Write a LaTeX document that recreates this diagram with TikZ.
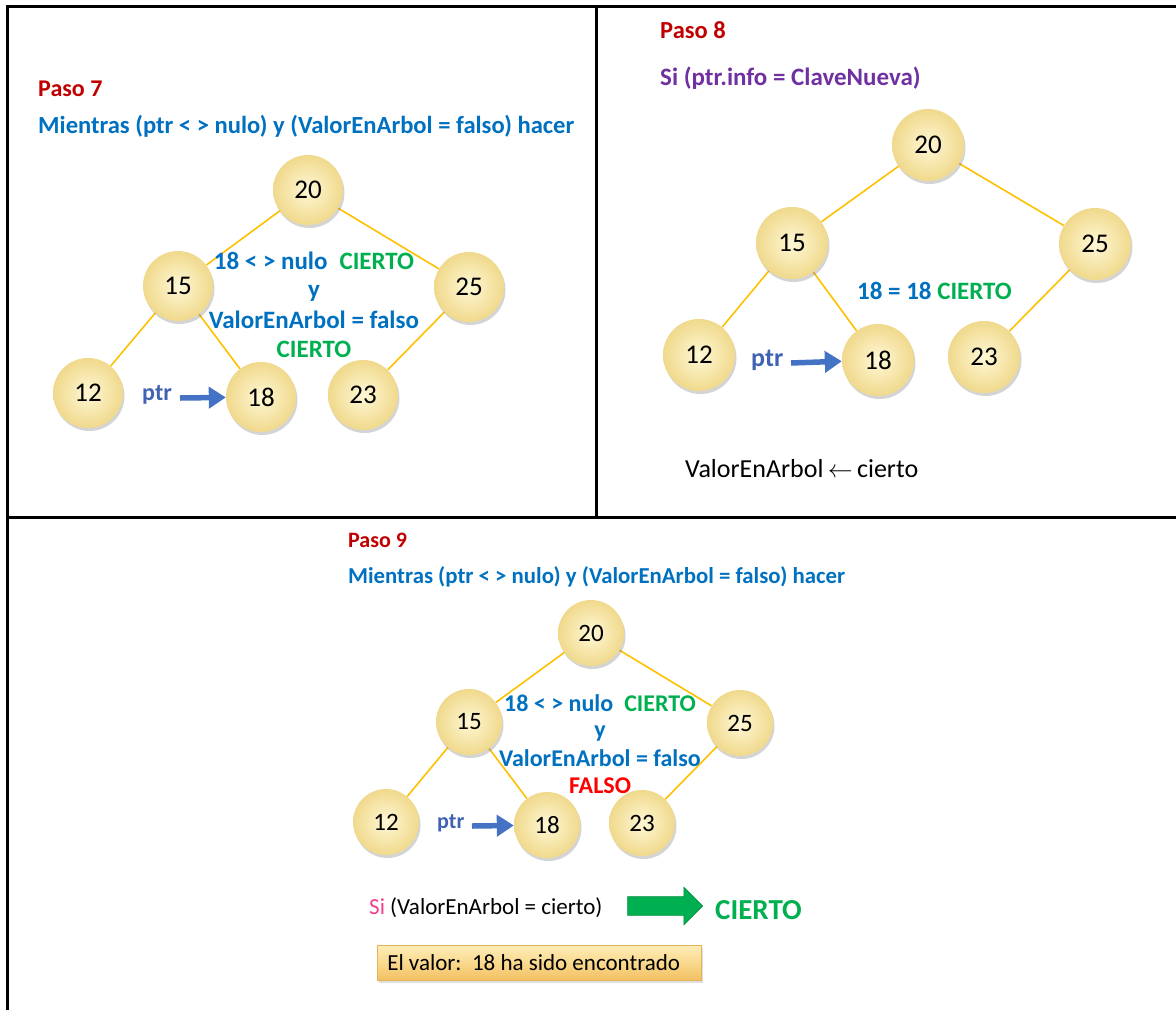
\documentclass[tikz,border=0pt]{standalone}
\usepackage{fontspec}
\setmainfont{Carlito}
\usetikzlibrary{shadows,shapes.arrows,arrows.meta,backgrounds}

\definecolor{pasored}{HTML}{C00000}
\definecolor{codeblue}{HTML}{0070C0}
\definecolor{okgreen}{HTML}{00B050}
\definecolor{falsered}{HTML}{FF0000}
\definecolor{purp}{HTML}{7030A0}
\definecolor{ptrblue}{HTML}{4472C4}
\definecolor{ptrtext}{HTML}{3F62B2}
\definecolor{edgegold}{HTML}{FFC000}
\definecolor{sipink}{HTML}{F0408E}
\definecolor{ballin}{HTML}{FFF8D6}
\definecolor{ballout}{HTML}{F0D98C}
\definecolor{boxtop}{HTML}{FFEDB8}
\definecolor{boxmid}{HTML}{F9D98E}
\definecolor{boxbot}{HTML}{F3C062}
\definecolor{boxline}{HTML}{E2B457}

\newcommand{\fs}[1]{\fontsize{#1}{#1}\selectfont}

\tikzset{
  frame/.style={line width=3pt, black},
  keynode/.style={circle, inner sep=0pt, shading=radial, inner color=ballin, outer color=ballout,
    drop shadow={shadow xshift=1.5pt, shadow yshift=-3pt, opacity=0.28, fill=black!60}},
  tree/.style={draw=edgegold, line width=1.6pt},
  ptrarrow/.style={draw=ptrblue, line width=5.5pt, -{Triangle[length=17pt,width=21pt]}},
  title/.style={anchor=base west, inner sep=0pt, font=\bfseries},
  txt/.style={anchor=base, inner sep=0pt},
}

\begin{document}
\begin{tikzpicture}[x=1pt,y=-1pt]
\useasboundingbox (0,0) rectangle (1176,1010);

% frame and dividers
\draw[frame, line join=miter] (1176,6) -- (7.5,6) -- (7.5,1010);
\draw[frame] (7.5,517) -- (1176,517);
\draw[frame] (596,6) -- (596,517);

% ---------------- Paso 7 ----------------
\node[title, text=pasored, font=\bfseries\fs{24}] (p7title) at (38,96) {Paso 7};
\node[title, text=codeblue, font=\bfseries\fs{24.6}] (p7loop) at (38,133) {Mientras (ptr < > nulo) y (ValorEnArbol = falso) hacer};

\begin{scope}[every node/.append style={font=\fs{27}}]
\node[keynode, minimum size=70pt] (p7n20) at (308,190) {20};
\node[keynode, minimum size=70pt] (p7n15) at (178,286) {15};
\node[keynode, minimum size=70pt] (p7n25) at (469,287) {25};
\node[keynode, minimum size=70pt] (p7n12) at (88,393) {12};
\node[keynode, minimum size=70pt] (p7n18) at (261,397) {18};
\node[keynode, minimum size=70pt] (p7n23) at (363,395) {23};
\end{scope}
\begin{scope}[on background layer]
\draw[tree] (p7n20) -- (p7n15);
\draw[tree] (p7n20) -- (p7n25);
\draw[tree] (p7n15) -- (p7n12);
\draw[tree] (p7n15) -- (p7n18);
\draw[tree] (p7n25) -- (p7n23);
\end{scope}

\node[txt, font=\bfseries\fs{25}] (p7l1) at (314,269) {\textcolor{codeblue}{18 < > nulo}\hspace{12pt}\textcolor{okgreen}{CIERTO}};
\node[txt, font=\bfseries\fs{25}, text=codeblue] (p7l2) at (314,297) {y};
\node[txt, font=\bfseries\fs{25}, text=codeblue] (p7l3) at (314,328) {ValorEnArbol = falso};
\node[txt, font=\bfseries\fs{25}, text=okgreen] (p7l4) at (314,357) {CIERTO};

\node[title, text=ptrtext, font=\bfseries\fs{24}] (p7ptr) at (142,400) {ptr};
\coordinate (p7tail) at (180,398);
\draw[ptrarrow] (p7tail) -- (p7n18);

% ---------------- Paso 8 ----------------
\node[title, text=pasored, font=\bfseries\fs{24.5}] (p8title) at (660,38) {Paso 8};
\node[title, text=purp, font=\bfseries\fs{25}] (p8cond) at (660,85) {Si (ptr.info = ClaveNueva)};

\begin{scope}[every node/.append style={font=\fs{27}}]
\node[keynode, minimum size=72pt] (p8n20) at (928,145) {20};
\node[keynode, minimum size=72pt] (p8n15) at (792,243) {15};
\node[keynode, minimum size=72pt] (p8n25) at (1095,244) {25};
\node[keynode, minimum size=72pt] (p8n12) at (699,355) {12};
\node[keynode, minimum size=72pt] (p8n18) at (878,360) {18};
\node[keynode, minimum size=72pt] (p8n23) at (984,357) {23};
\end{scope}
\begin{scope}[on background layer]
\draw[tree] (p8n20) -- (p8n15);
\draw[tree] (p8n20) -- (p8n25);
\draw[tree] (p8n15) -- (p8n12);
\draw[tree] (p8n15) -- (p8n18);
\draw[tree] (p8n25) -- (p8n23);
\end{scope}

\node[title, font=\bfseries\fs{25}] (p8eq) at (857,299) {\textcolor{codeblue}{18 = 18} \textcolor{okgreen}{CIERTO}};
\node[title, text=ptrtext, font=\bfseries\fs{26}] (p8ptr) at (751,366) {ptr};
\coordinate (p8tail) at (791,363);
\draw[ptrarrow] (p8tail) -- (p8n18);

\node[title, font=\fs{26}, text=black] (p8set) at (685,477) {ValorEnArbol\,\(\leftarrow\)\,cierto};

% ---------------- Paso 9 ----------------
\node[title, text=pasored, font=\bfseries\fs{22}] (p9title) at (348,547) {Paso 9};
\node[title, text=codeblue, font=\bfseries\fs{22.8}] (p9loop) at (348,583) {Mientras (ptr < > nulo) y (ValorEnArbol = falso) hacer};

\begin{scope}[every node/.append style={font=\fs{25}}]
\node[keynode, minimum size=66pt] (p9n20) at (591,633) {20};
\node[keynode, minimum size=66pt] (p9n15) at (469,722) {15};
\node[keynode, minimum size=66pt] (p9n25) at (740,723) {25};
\node[keynode, minimum size=66pt] (p9n12) at (386,822) {12};
\node[keynode, minimum size=66pt] (p9n18) at (547,825) {18};
\node[keynode, minimum size=66pt] (p9n23) at (642,823) {23};
\end{scope}
\begin{scope}[on background layer]
\draw[tree] (p9n20) -- (p9n15);
\draw[tree] (p9n20) -- (p9n25);
\draw[tree] (p9n15) -- (p9n12);
\draw[tree] (p9n15) -- (p9n18);
\draw[tree] (p9n25) -- (p9n23);
\end{scope}

\node[txt, font=\bfseries\fs{24}] (p9l1) at (600,711) {\textcolor{codeblue}{18 < > nulo}\hspace{11pt}\textcolor{okgreen}{CIERTO}};
\node[txt, font=\bfseries\fs{24}, text=codeblue] (p9l2) at (600,737) {y};
\node[txt, font=\bfseries\fs{24}, text=codeblue] (p9l3) at (600,766) {ValorEnArbol = falso};
\node[txt, font=\bfseries\fs{24}, text=falsered] (p9l4) at (600,793) {FALSO};

\node[title, text=ptrtext, font=\bfseries\fs{22}] (p9ptr) at (437,828) {ptr};
\coordinate (p9tail) at (472,826);
\draw[ptrarrow] (p9tail) -- (p9n18);

\node[title, font=\fs{23}] (p9if) at (369,914) {\textcolor{sipink}{Si} (ValorEnArbol = cierto)};
\node[single arrow, fill=okgreen, draw=okgreen!80!black, line width=0.6pt, inner xsep=0pt, inner ysep=9pt,
      minimum height=75pt, minimum width=37pt, single arrow head extend=9.5pt] (p9big) at (660.5,906) {};
\node[title, text=okgreen, font=\bfseries\fs{29}] (p9yes) at (715,919) {CIERTO};

\node[anchor=west, inner xsep=10pt, inner ysep=0pt, minimum height=35pt,
      font=\fs{23}, top color=boxtop, bottom color=boxbot, middle color=boxmid,
      draw=boxline, line width=0.6pt,
      drop shadow={shadow xshift=2pt, shadow yshift=-3pt, opacity=0.25}] (p9msg) at (377,962.5)
      {\makebox[304pt][l]{El valor:\ \ 18 ha sido encontrado}};
\end{tikzpicture}
\end{document}
